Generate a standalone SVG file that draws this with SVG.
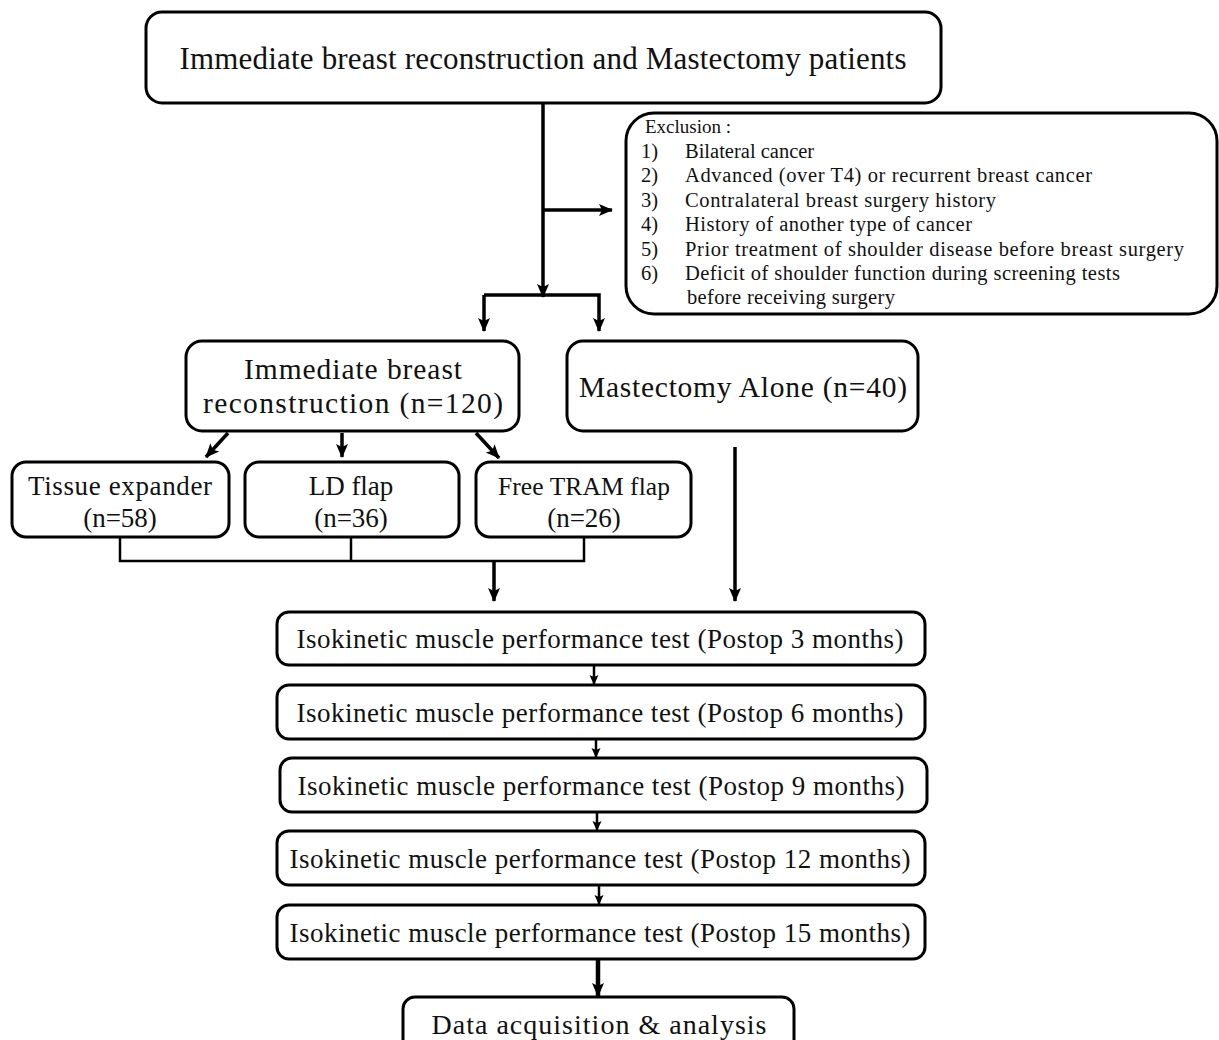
<svg xmlns="http://www.w3.org/2000/svg" width="1219" height="1040" viewBox="0 0 1219 1040">
<defs>
<style>
.box{fill:#fff;stroke:#000;stroke-width:3}
.t{font-family:"Liberation Serif","Times New Roman",serif;fill:#111;text-anchor:middle}
.tl{font-family:"Liberation Serif","Times New Roman",serif;fill:#111}
.c{fill:none;stroke:#000;stroke-width:3.5}
.cl{fill:none;stroke:#000;stroke-width:2.5}
</style>
<marker id="ah" markerUnits="userSpaceOnUse" markerWidth="14" markerHeight="14" viewBox="0 0 14 14" refX="13" refY="7" orient="auto">
<path d="M0,1 L14,7 L0,13 L3,7 Z" fill="#000"/>
</marker>
<marker id="ahs" markerUnits="userSpaceOnUse" markerWidth="10" markerHeight="10" viewBox="0 0 10 10" refX="9" refY="5" orient="auto">
<path d="M0,0.5 L10,5 L0,9.5 L2,5 Z" fill="#000"/>
</marker>
</defs>
<rect width="1219" height="1040" fill="#fff"/>

<g id="connectors">
<line class="c" x1="543" y1="103" x2="543" y2="297" marker-end="url(#ah)"/>
<line class="c" x1="543" y1="210" x2="612" y2="210" marker-end="url(#ah)"/>
<polyline class="c" points="484,295 599,295 599,331" marker-end="url(#ah)"/>
<line class="c" x1="484" y1="295" x2="484" y2="331" marker-end="url(#ah)"/>
<line class="c" x1="228" y1="433" x2="206" y2="457" marker-end="url(#ah)"/>
<line class="c" x1="342" y1="433" x2="342" y2="457" marker-end="url(#ah)"/>
<line class="c" x1="476" y1="433" x2="499" y2="458" marker-end="url(#ah)"/>
<polyline class="cl" points="120,537 120,561 584,561 584,537"/>
<line class="cl" x1="351" y1="537" x2="351" y2="561"/>
<line class="c" x1="494" y1="561" x2="494" y2="601" marker-end="url(#ah)"/>
<line class="c" x1="735" y1="447" x2="735" y2="601" marker-end="url(#ah)"/>
<line class="cl" x1="594" y1="665" x2="594" y2="684" marker-end="url(#ahs)"/>
<line class="cl" x1="596" y1="739" x2="596" y2="757" marker-end="url(#ahs)"/>
<line class="cl" x1="597" y1="812" x2="597" y2="830" marker-end="url(#ahs)"/>
<line class="cl" x1="599" y1="885" x2="599" y2="904" marker-end="url(#ahs)"/>
<line x1="598" y1="959" x2="598" y2="996" stroke="#000" stroke-width="4.5" marker-end="url(#ah)"/>
</g>

<g id="n-top">
<rect class="box" x="146" y="12" width="795" height="91" rx="16"/>
<text class="t" x="543" y="69" font-size="31" textLength="727">Immediate breast reconstruction and Mastectomy patients</text>
</g>

<g id="n-exclusion">
<rect class="box" x="626" y="113" width="591" height="201" rx="28"/>
<text class="tl" x="645" y="133" font-size="19">Exclusion :</text>
<g font-size="20.5">
<text class="tl" x="641" y="158">1)</text><text class="tl" x="685" y="158">Bilateral cancer</text>
<text class="tl" x="641" y="182">2)</text><text class="tl" x="685" y="182" textLength="407">Advanced (over T4) or recurrent breast cancer</text>
<text class="tl" x="641" y="207">3)</text><text class="tl" x="685" y="207" textLength="311">Contralateral breast surgery history</text>
<text class="tl" x="641" y="231">4)</text><text class="tl" x="685" y="231" textLength="287">History of another type of cancer</text>
<text class="tl" x="641" y="256">5)</text><text class="tl" x="685" y="256" textLength="499">Prior treatment of shoulder disease before breast surgery</text>
<text class="tl" x="641" y="280">6)</text><text class="tl" x="685" y="280" textLength="435">Deficit of shoulder function during screening tests</text>
<text class="tl" x="687" y="304" textLength="208">before receiving surgery</text>
</g>
</g>

<g id="n-ibr">
<rect class="box" x="186" y="341" width="333" height="90" rx="16"/>
<text class="t" x="353" y="379" font-size="29.5" textLength="218">Immediate breast</text>
<text class="t" x="353" y="413" font-size="29.5" textLength="300">reconstruction (n=120)</text>
</g>

<g id="n-mast">
<rect class="box" x="567" y="341" width="351" height="90" rx="16"/>
<text class="t" x="743" y="397" font-size="29.5" textLength="328">Mastectomy Alone (n=40)</text>
</g>

<g id="n-te">
<rect class="box" x="12" y="462" width="217" height="75" rx="14"/>
<text class="t" x="120" y="495" font-size="27" textLength="184">Tissue expander</text>
<text class="t" x="120" y="527" font-size="27">(n=58)</text>
</g>
<g id="n-ld">
<rect class="box" x="245" y="462" width="214" height="75" rx="14"/>
<text class="t" x="351" y="495" font-size="27">LD flap</text>
<text class="t" x="351" y="527" font-size="27">(n=36)</text>
</g>
<g id="n-tram">
<rect class="box" x="476" y="462" width="215" height="75" rx="14"/>
<text class="t" x="584" y="495" font-size="25.5" textLength="172">Free TRAM flap</text>
<text class="t" x="584" y="527" font-size="27">(n=26)</text>
</g>

<g id="n-iso3">
<rect class="box" x="277" y="612" width="648" height="53" rx="12"/>
<text class="t" x="600" y="648" font-size="27" textLength="607">Isokinetic muscle performance test (Postop 3 months)</text>
</g>
<g id="n-iso6">
<rect class="box" x="277" y="685" width="648" height="54" rx="12"/>
<text class="t" x="600" y="722" font-size="27" textLength="607">Isokinetic muscle performance test (Postop 6 months)</text>
</g>
<g id="n-iso9">
<rect class="box" x="280" y="758" width="647" height="54" rx="12"/>
<text class="t" x="601" y="795" font-size="27" textLength="607">Isokinetic muscle performance test (Postop 9 months)</text>
</g>
<g id="n-iso12">
<rect class="box" x="277" y="831" width="648" height="54" rx="12"/>
<text class="t" x="600" y="868" font-size="27" textLength="621">Isokinetic muscle performance test (Postop 12 months)</text>
</g>
<g id="n-iso15">
<rect class="box" x="277" y="905" width="648" height="54" rx="12"/>
<text class="t" x="600" y="942" font-size="27" textLength="621">Isokinetic muscle performance test (Postop 15 months)</text>
</g>

<g id="n-data">
<rect class="box" x="403" y="997" width="391" height="60" rx="12"/>
<text class="t" x="599" y="1034" font-size="28" textLength="335">Data acquisition &amp; analysis</text>
</g>
</svg>
